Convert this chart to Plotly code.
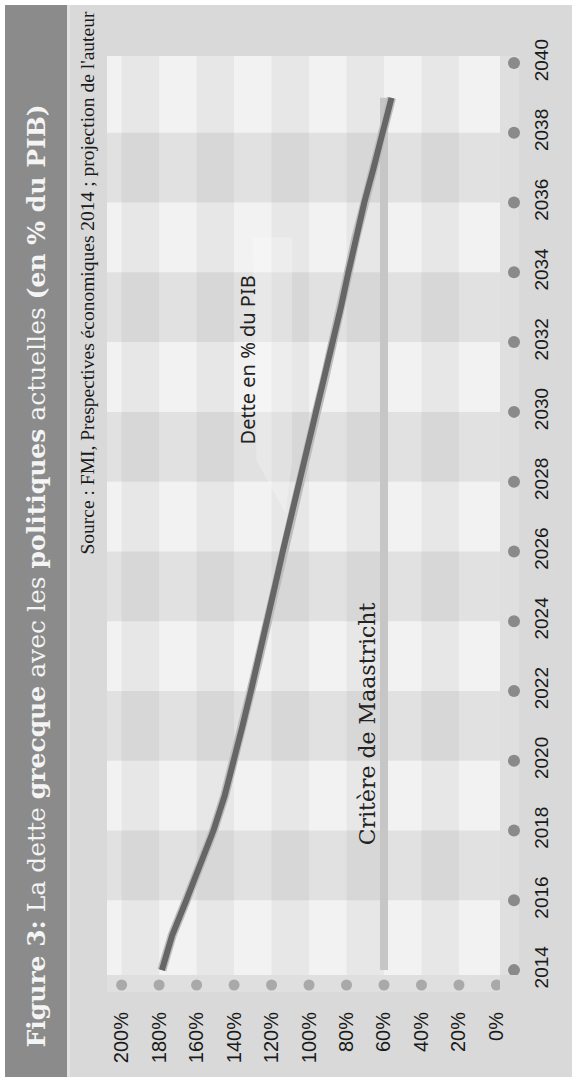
import plotly.graph_objects as go

# ---------------- data ----------------
years = list(range(2014, 2040))
debt_pct = [178.5, 173.0, 165.5, 158.0, 151.0, 145.0, 140.0, 135.5, 131.0, 126.5,
            122.3, 118.2, 114.0, 109.5, 105.0, 100.5, 96.0, 91.5, 87.0, 83.0,
            79.0, 75.0, 70.5, 65.5, 60.5, 56.0]
maastricht_pct = [60] * len(years)

year_ticks = list(range(2014, 2041, 2))
year_labels = [str(y) for y in year_ticks]
pct_ticks = list(range(0, 201, 20))
pct_labels = [f"{p}%" for p in pct_ticks]

title_html = ("<b>Figure 3:</b> La dette <b>grecque</b> avec les <b>politiques</b> "
              "actuelles <b>(en % du PIB)</b>")
source_text = "Source : FMI, Prespectives économiques 2014 ; projection de l'auteur"
debt_label = "Dette en % du PIB"
maastricht_label = "Critère de Maastricht"

# ---------------- layout geometry (pixels) ----------------
W, H = 572, 1077
AREA_L, AREA_R, AREA_T, AREA_B = 107, 528, 56, 995   # whole plotting area incl. tick-dot strips
PLOT_R, PLOT_B = 500, 975                             # main plot edges
AW, AH = AREA_R - AREA_L, AREA_B - AREA_T
X_RANGE = [207.8, -1.9]
Y_RANGE = [2013.86, 2040.2]


def px_x(p):
    return (p - AREA_L) / AW


def px_y(p):
    return (AREA_B - p) / AH


fig = go.Figure()

shapes = [
    # page background and title band
    dict(type="rect", xref="paper", yref="paper", x0=px_x(5), x1=px_x(W + 5),
         y0=px_y(H + 5), y1=px_y(5), fillcolor="#d9d9d9", line_width=0, layer="below"),
    dict(type="rect", xref="paper", yref="paper", x0=px_x(5), x1=px_x(67),
         y0=px_y(H + 5), y1=px_y(5), fillcolor="#8b8b8b", line_width=0, layer="below"),
    dict(type="rect", xref="paper", yref="paper", x0=px_x(67), x1=px_x(70),
         y0=px_y(H + 5), y1=px_y(5), fillcolor="#e2e2e2", line_width=0, layer="below"),
    # light strips holding the tick dots
    dict(type="rect", xref="paper", yref="paper", x0=px_x(PLOT_R), x1=px_x(519),
         y0=px_y(PLOT_B), y1=px_y(AREA_T), fillcolor="#dfdfdf", line_width=0, layer="below"),
    dict(type="rect", xref="paper", yref="paper", x0=0, x1=px_x(PLOT_R),
         y0=px_y(AREA_B - 3), y1=px_y(PLOT_B), fillcolor="#dfdfdf", line_width=0, layer="below"),
    # plot base
    dict(type="rect", xref="x domain", yref="y domain", x0=0, x1=1, y0=0, y1=1,
         fillcolor="#f2f2f2", line_width=0, layer="below"),
]
for i in range(len(year_ticks) - 1):
    if i % 2 == 1:
        shapes.append(dict(type="rect", xref="x domain", yref="y", x0=0, x1=1,
                           y0=year_ticks[i], y1=year_ticks[i + 1],
                           fillcolor="rgba(0,0,0,0.065)", line_width=0, layer="below"))
for j in range(len(pct_ticks) - 1):
    if j % 2 == 1:
        shapes.append(dict(type="rect", xref="x", yref="y domain", x0=pct_ticks[j], x1=pct_ticks[j + 1],
                           y0=0, y1=1, fillcolor="rgba(0,0,0,0.045)", line_width=0, layer="below"))

# faint callout bubble behind the debt label
shapes.append(dict(type="path", xref="x", yref="y", layer="below",
                   path="M 130,2035 L 109,2035 L 109,2028.6 L 112.5,2027.1 L 128,2028.6 Z",
                   fillcolor="rgba(255,255,255,0.25)", line_width=0))

# tick dots on their own small axes
fig.add_trace(go.Scatter(
    x=pct_ticks, y=[0] * len(pct_ticks), xaxis="x", yaxis="y2", mode="markers",
    marker=dict(size=11, color="#a9a9a9"), hoverinfo="skip", showlegend=False))
fig.add_trace(go.Scatter(
    x=[0] * len(year_ticks), y=year_ticks, xaxis="x2", yaxis="y", mode="markers",
    marker=dict(size=12, color="#8a8a8a"), hoverinfo="skip", showlegend=False))

# series
fig.add_trace(go.Scatter(x=maastricht_pct, y=years, mode="lines",
                         line=dict(color="#c6c6c6", width=8), showlegend=False))
fig.add_trace(go.Scatter(x=debt_pct, y=years, mode="lines",
                         line=dict(color="#bdbdbd", width=9), showlegend=False, hoverinfo="skip"))
fig.add_trace(go.Scatter(x=debt_pct, y=years, mode="lines",
                         line=dict(color="#666666", width=6), showlegend=False))

annotations = [
    dict(text=title_html, textangle=-90, xref="paper", yref="paper",
         x=px_x(36), y=px_y(1050), xanchor="center", yanchor="bottom", showarrow=False,
         font=dict(family="DejaVu Serif", size=25, color="#f4f4f4")),
    dict(text=source_text, textangle=-90, xref="paper", yref="paper",
         x=px_x(87), y=px_y(10), xanchor="center", yanchor="top", showarrow=False,
         font=dict(family="Liberation Serif", size=19.5, color="#1a1a1a")),
    dict(text=debt_label, textangle=-90, xref="x", yref="y", x=132.6, y=2031.5,
         xanchor="center", yanchor="middle", showarrow=False,
         font=dict(family="Noto Sans", size=20, color="#222222")),
    dict(text=maastricht_label, textangle=-90, xref="x", yref="y", x=69.0, y=2021.05,
         xanchor="center", yanchor="middle", showarrow=False,
         font=dict(family="DejaVu Serif", size=22, color="#222222")),
]

x_dom_main = [0, px_x(PLOT_R)]
y_dom_main = [px_y(PLOT_B), 1]

fig.update_layout(
    width=W, height=H,
    margin=dict(l=AREA_L, r=W - AREA_R, t=AREA_T, b=H - AREA_B, pad=0),
    paper_bgcolor="#ffffff",
    plot_bgcolor="rgba(0,0,0,0)",
    shapes=shapes,
    annotations=annotations,
    showlegend=False,
    xaxis=dict(domain=x_dom_main, range=X_RANGE, tickvals=pct_ticks, ticktext=pct_labels,
               tickangle=-90, anchor="y",
               showgrid=False, zeroline=False, showline=False,
               ticks="outside", ticklen=28, tickcolor="rgba(0,0,0,0)",
               tickfont=dict(family="Liberation Sans", size=20, color="#1a1a1a")),
    yaxis=dict(domain=y_dom_main, range=Y_RANGE, tickvals=year_ticks, ticktext=year_labels,
               tickangle=-90, side="right", anchor="x",
               showgrid=False, zeroline=False, showline=False,
               ticks="outside", ticklen=24, tickcolor="rgba(0,0,0,0)",
               tickfont=dict(family="Liberation Sans", size=19, color="#1a1a1a")),
    xaxis2=dict(domain=[px_x(PLOT_R), 1], range=[-1, 1], anchor="y",
                visible=False, fixedrange=True),
    yaxis2=dict(domain=[0, px_y(PLOT_B)], range=[-1, 1], anchor="x",
                visible=False, fixedrange=True),
)

fig.write_html("out.html")
